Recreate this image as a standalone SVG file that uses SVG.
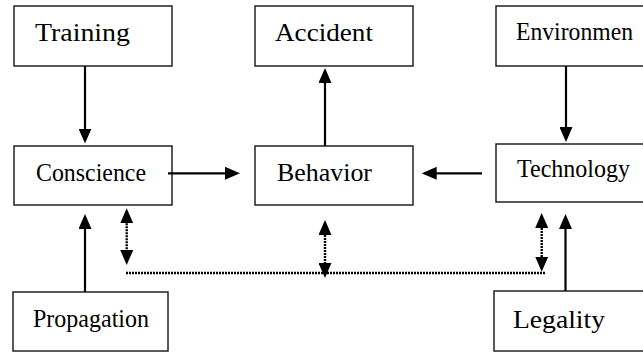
<svg xmlns="http://www.w3.org/2000/svg" width="643" height="352" viewBox="0 0 643 352">
<style>
.box{fill:#fff;stroke:#222;stroke-width:1.5}
.lbl{font-family:"Liberation Serif","Times New Roman",serif;font-size:25.5px;fill:#000}
.arr{stroke:#000;stroke-width:2.2;fill:none}
.dot{stroke:#000;stroke-width:2.4;fill:none;stroke-dasharray:2 1}
</style>
<defs>
<marker id="ah" viewBox="0 0 15 13" refX="12" refY="6.5" markerWidth="15" markerHeight="13" markerUnits="userSpaceOnUse" orient="auto-start-reverse">
<path d="M0,0 L15,6.5 L0,13 z" fill="#000"/>
</marker>
</defs>
<rect width="643" height="352" fill="#fff"/>
<g id="training"><rect class="box" x="14" y="6" width="158" height="60"/><text class="lbl" x="35" y="41" textLength="95" lengthAdjust="spacingAndGlyphs">Training</text></g>
<g id="accident"><rect class="box" x="255" y="6" width="158" height="60"/><text class="lbl" x="275" y="41" textLength="98" lengthAdjust="spacingAndGlyphs">Accident</text></g>
<g id="environment"><rect class="box" x="496" y="6" width="160" height="60"/><text class="lbl" x="516" y="40" textLength="117" lengthAdjust="spacingAndGlyphs">Environmen</text></g>
<g id="conscience"><rect class="box" x="14" y="146" width="158" height="59"/><text class="lbl" x="36" y="180.5" textLength="110" lengthAdjust="spacingAndGlyphs">Conscience</text></g>
<g id="behavior"><rect class="box" x="255" y="146" width="158" height="59"/><text class="lbl" x="277" y="181" textLength="95" lengthAdjust="spacingAndGlyphs">Behavior</text></g>
<g id="technology"><rect class="box" x="496" y="144" width="160" height="58"/><text class="lbl" x="517" y="177" textLength="113" lengthAdjust="spacingAndGlyphs">Technology</text></g>
<g id="propagation"><rect class="box" x="13" y="292" width="155" height="59"/><text class="lbl" x="33" y="327" textLength="116" lengthAdjust="spacingAndGlyphs">Propagation</text></g>
<g id="legality"><rect class="box" x="494" y="291" width="160" height="60"/><text class="lbl" x="513" y="328" textLength="92" lengthAdjust="spacingAndGlyphs">Legality</text></g>
<g id="connectors">
<line class="arr" x1="85" y1="66" x2="85" y2="140.5" marker-end="url(#ah)"/>
<line class="arr" x1="168" y1="173.3" x2="237" y2="173.3" marker-end="url(#ah)"/>
<line class="arr" x1="325" y1="146" x2="325" y2="71" marker-end="url(#ah)"/>
<line class="arr" x1="566" y1="66" x2="566" y2="139" marker-end="url(#ah)"/>
<line class="arr" x1="482" y1="173.3" x2="424.7" y2="173.3" marker-end="url(#ah)"/>
<line class="arr" x1="85" y1="292" x2="85" y2="217" marker-end="url(#ah)"/>
<line class="arr" x1="565.5" y1="291" x2="565.5" y2="217" marker-end="url(#ah)"/>
<line class="dot" x1="126" y1="273" x2="545" y2="273"/>
<line class="dot" x1="126.7" y1="211.3" x2="126.7" y2="262" marker-start="url(#ah)" marker-end="url(#ah)"/>
<line class="dot" x1="325" y1="223" x2="325" y2="275" marker-start="url(#ah)" marker-end="url(#ah)"/>
<line class="dot" x1="541.7" y1="216" x2="541.7" y2="268.7" marker-start="url(#ah)" marker-end="url(#ah)"/>
</g>
</svg>
